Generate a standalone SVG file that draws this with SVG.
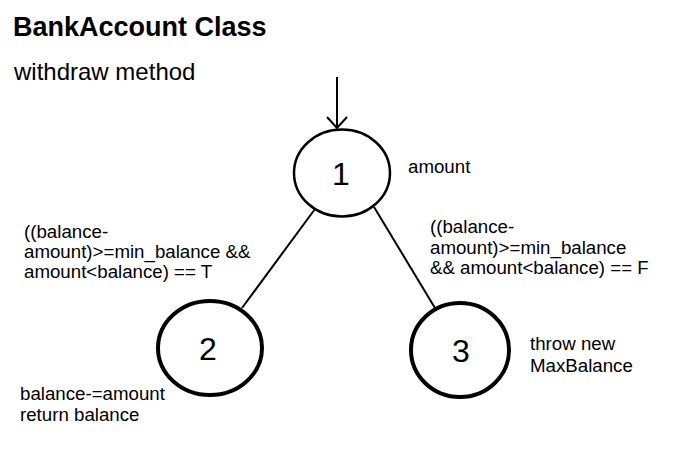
<svg xmlns="http://www.w3.org/2000/svg" width="679" height="453" viewBox="0 0 679 453">
<style>
text{font-family:"Liberation Sans",Arial,sans-serif;fill:#000}
.lbl{font-size:18.7px}
.num{font-size:32px}
.node{fill:#fff;stroke:#000}
.edge{stroke:#000;stroke-width:2;fill:none}
</style>
<rect width="679" height="453" fill="#fff"/>
<text x="13" y="36" font-size="27" font-weight="bold">BankAccount Class</text>
<text x="14" y="80" font-size="24">withdraw method</text>
<g id="connectors">
<line class="edge" x1="337" y1="77" x2="337" y2="128" stroke-width="2.5"/>
<polyline class="edge" points="327,117 337,128 347,117" stroke-width="2.5"/>
<line class="edge" x1="315" y1="209" x2="242" y2="308"/>
<line class="edge" x1="374" y1="207" x2="435" y2="308"/>
</g>
<g id="node1">
<ellipse class="node" cx="342" cy="173" rx="48" ry="43.5" stroke-width="2.5"/>
<text class="num" x="341" y="185" text-anchor="middle">1</text>
<text class="lbl" x="408" y="173">amount</text>
</g>
<g id="node2">
<ellipse class="node" cx="210" cy="348" rx="52" ry="47" stroke-width="4"/>
<text class="num" x="208" y="360" text-anchor="middle">2</text>
<text class="lbl" x="24" y="238">((balance-</text>
<text class="lbl" x="24" y="258">amount)&gt;=min_balance &amp;&amp;</text>
<text class="lbl" x="24" y="278">amount&lt;balance) == T</text>
<text class="lbl" x="20" y="400">balance-=amount</text>
<text class="lbl" x="20" y="421">return balance</text>
</g>
<g id="node3">
<ellipse class="node" cx="460" cy="350" rx="49" ry="47" stroke-width="4"/>
<text class="num" x="461" y="362" text-anchor="middle">3</text>
<text class="lbl" x="430" y="233">((balance-</text>
<text class="lbl" x="430" y="254">amount)&gt;=min_balance</text>
<text class="lbl" x="430" y="274">&amp;&amp; amount&lt;balance) == F</text>
<text class="lbl" x="530" y="350">throw new</text>
<text class="lbl" x="530" y="372">MaxBalance</text>
</g>
</svg>
